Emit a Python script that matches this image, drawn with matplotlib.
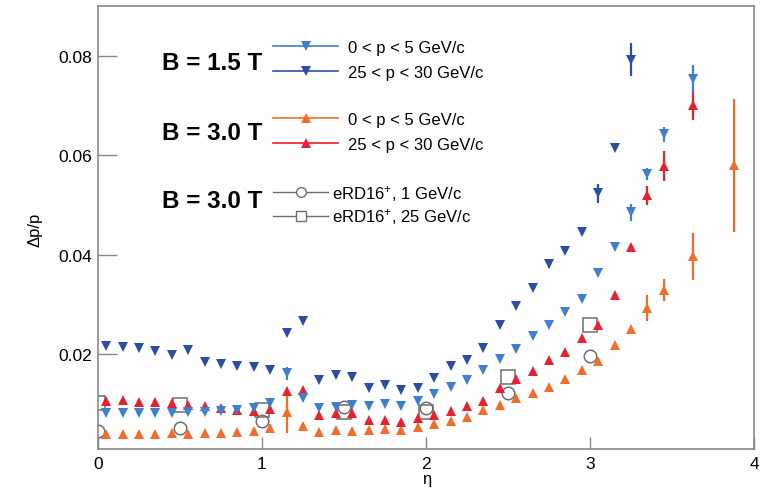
import numpy as np
import matplotlib
matplotlib.use("Agg")
import matplotlib.pyplot as plt
from matplotlib.lines import Line2D

plt.rcParams['font.family'] = ['Liberation Sans', 'DejaVu Sans']
plt.rcParams['mathtext.fontset'] = 'custom'
plt.rcParams['mathtext.rm'] = 'Liberation Sans'
plt.rcParams['mathtext.default'] = 'regular'

# eta bin centres
eta_grid = [round(0.05 + 0.1 * i, 2) for i in range(35)]
eta_last = [3.625]
eta_orange_extra = [3.875]

# B = 1.5 T, 25 < p < 30 GeV/c (dark blue, down triangles)
eta_b15_hi = eta_grid[:33]
b15_hi = [0.0217, 0.0215, 0.0213, 0.0207, 0.0199, 0.0209, 0.0184, 0.0180, 0.0176, 0.0175,
          0.0168, 0.0243, 0.0267, 0.0149, 0.0159, 0.0155, 0.0133, 0.0138, 0.0128, 0.0132,
          0.0152, 0.0177, 0.0189, 0.0213, 0.0260, 0.0297, 0.0334, 0.0381, 0.0407, 0.0446,
          0.0524, 0.0615, 0.0792]
b15_hi_err = [0] * 27 + [0.0007, 0, 0, 0.0019, 0, 0.0033]

# B = 1.5 T, 0 < p < 5 GeV/c (light blue, down triangles)
eta_b15_lo = eta_grid + eta_last
b15_lo = [0.0082, 0.0082, 0.0082, 0.0083, 0.0083, 0.0085, 0.0085, 0.0087, 0.0088, 0.0092,
          0.0102, 0.0162, 0.0113, 0.0093, 0.0095, 0.0098, 0.0097, 0.0101, 0.0097, 0.0106,
          0.0120, 0.0135, 0.0148, 0.0169, 0.0190, 0.0210, 0.0237, 0.0259, 0.0286, 0.0312,
          0.0364, 0.0416, 0.0486, 0.0562, 0.0642, 0.0754]
b15_lo_err = [0] * 11 + [0.0013] + [0] * 20 + [0.0017, 0.0012, 0.0015, 0.0028]

# B = 3.0 T, 25 < p < 30 GeV/c (red, up triangles)
eta_b30_hi = eta_grid + eta_last
b30_hi = [0.0106, 0.0108, 0.0105, 0.0105, 0.0102, 0.0098, 0.0096, 0.0092, 0.0088, 0.0087,
          0.0090, 0.0127, 0.0128, 0.0078, 0.0082, 0.0083, 0.0068, 0.0069, 0.0064, 0.0072,
          0.0078, 0.0086, 0.0097, 0.0107, 0.0132, 0.0150, 0.0167, 0.0189, 0.0205, 0.0233,
          0.0260, 0.0319, 0.0416, 0.0520, 0.0578, 0.0702]
b30_hi_err = [0] * 33 + [0.0019, 0.0030, 0.0032]

# B = 3.0 T, 0 < p < 5 GeV/c (orange, up triangles)
eta_b30_lo = eta_grid + eta_last + eta_orange_extra
b30_lo = [0.0041, 0.0040, 0.0040, 0.0041, 0.0043, 0.0041, 0.0043, 0.0043, 0.0045, 0.0047,
          0.0053, 0.0085, 0.0056, 0.0045, 0.0048, 0.0047, 0.0049, 0.0051, 0.0049, 0.0055,
          0.0060, 0.0067, 0.0075, 0.0088, 0.0098, 0.0112, 0.0123, 0.0135, 0.0150, 0.0169,
          0.0187, 0.0219, 0.0252, 0.0294, 0.0329, 0.0397, 0.0580]
b30_lo_err = [0] * 10 + [0.0007, 0.0042] + [0] * 21 + [0.0026, 0.0022, 0.0047, 0.0134]

# eRD16+ reference points
eta_erd = [0.0, 0.5, 1.0, 1.5, 2.0, 2.5, 3.0]
erd_1gev = [0.0047, 0.0053, 0.0066, 0.0095, 0.0092, 0.0122, 0.0197]
erd_25gev = [0.0102, 0.0098, 0.0089, 0.0085, 0.0085, 0.0155, 0.0260]

c_dblue = '#2c4ea2'
c_lblue = '#3f7fcb'
c_orange = '#f26d2c'
c_red = '#e82030'
c_gray = '#6e6e6e'

W, H = 762, 489
fig = plt.figure(figsize=(W / 100, H / 100), dpi=100)
ax = fig.add_axes([98 / W, 1 - 450 / H, (754 - 98) / W, (450 - 7) / H])

ms_tri = 6.5
ew = 1.6
ax.errorbar(eta_b30_lo, b30_lo, yerr=b30_lo_err, fmt='^', color=c_orange, ms=ms_tri,
            elinewidth=ew, capsize=0, mew=0)
ax.errorbar(eta_b30_hi, b30_hi, yerr=b30_hi_err, fmt='^', color=c_red, ms=ms_tri,
            elinewidth=ew, capsize=0, mew=0)
ax.errorbar(eta_b15_lo, b15_lo, yerr=b15_lo_err, fmt='v', color=c_lblue, ms=ms_tri,
            elinewidth=ew, capsize=0, mew=0)
ax.errorbar(eta_b15_hi, b15_hi, yerr=b15_hi_err, fmt='v', color=c_dblue, ms=ms_tri,
            elinewidth=ew, capsize=0, mew=0)
ax.plot(eta_erd, erd_1gev, 'o', mfc='none', mec=c_gray, ms=9, mew=1.1)
ax.plot(eta_erd, erd_25gev, 's', mfc='none', mec=c_gray, ms=9.5, mew=1.1)

ax.set_xlim(0, 4)
ax.set_ylim(0.001, 0.09)
ax.set_xticks([0, 1, 2, 3, 4])
ax.set_xticklabels(['0', '1', '2', '3', '4'])
ax.set_yticks([0.02, 0.04, 0.06, 0.08])
ax.set_yticklabels(['0.02', '0.04', '0.06', '0.08'])
ax.tick_params(axis='y', direction='in', length=14, width=1.0, color='#888888',
               labelsize=12.5, pad=4)
ax.tick_params(axis='x', direction='in', length=8.5, width=1.0, color='#888888',
               labelsize=12.5, pad=5)
for s in ax.spines.values():
    s.set_color('#888888')
    s.set_linewidth(1.2)

ax.set_xlabel('η', fontsize=12)
ax.xaxis.set_label_coords(329 / 656, -22 / 443)
ax.set_ylabel('Δp/p', fontsize=12)
ax.yaxis.set_label_coords(-56 / 656, 1 - 223 / 443)

# legend blocks
for txt, ypix in [('B = 1.5 T', 63), ('B = 3.0 T', 133), ('B = 3.0 T', 201)]:
    fig.text(162 / W, 1 - ypix / H, txt, fontsize=17.5, fontweight='bold',
             ha='left', va='center')

groups = [
    ([c_lblue, c_dblue], 'v', ['0 < p < 5 GeV/c', '25 < p < 30 GeV/c'], 41),
    ([c_orange, c_red], '^', ['0 < p < 5 GeV/c', '25 < p < 30 GeV/c'], 113),
]
for cols, mk, labels, ytop in groups:
    handles = [Line2D([], [], color=c, marker=mk, ms=ms_tri, lw=1.2, mew=0) for c in cols]
    fig.legend(handles, labels, loc='upper left', bbox_to_anchor=(273 / W, 1 - ytop / H),
               frameon=False, fontsize=12, handlelength=3.9, handletextpad=0.6,
               labelspacing=0.6, borderpad=0, borderaxespad=0)

handles = [Line2D([], [], color=c_gray, marker='o', mfc='white', mec=c_gray, ms=7, lw=1.0),
           Line2D([], [], color=c_gray, marker='s', mfc='white', mec=c_gray, ms=7, lw=1.0)]
fig.legend(handles, ['eRD16$^{+}$, 1 GeV/c', 'eRD16$^{+}$, 25 GeV/c'], loc='upper left',
           bbox_to_anchor=(273 / W, 1 - 184 / H), frameon=False, fontsize=12,
           handlelength=3.3, handletextpad=0.25, labelspacing=0.2, borderpad=0,
           borderaxespad=0)

fig.savefig('out.png', dpi=100)
